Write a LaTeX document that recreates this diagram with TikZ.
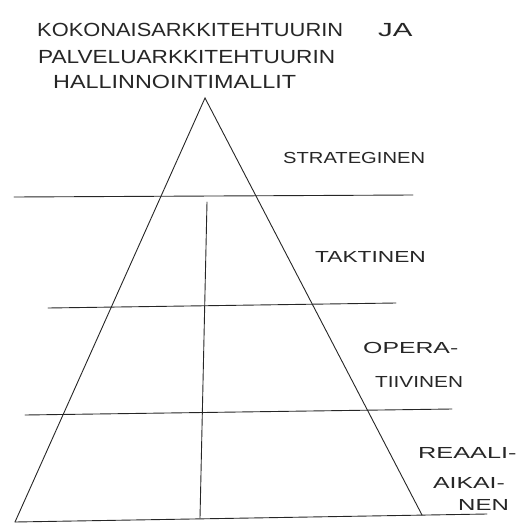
\documentclass[tikz,border=0pt]{standalone}
\usepackage{fontspec}
\setmainfont{Liberation Sans}
\usetikzlibrary{positioning}
\definecolor{pencil}{HTML}{262626}
% leveämpi käsiala
\newcommand{\wide}[2]{\scalebox{#1}[1]{#2}}
\tikzset{
  % viivat
  stroke/.style={draw=pencil,line width=0.9pt,line cap=round},
  % tekstit
  hand/.style={font=\fontsize{19}{21}\selectfont,text=pencil,inner sep=0pt,anchor=west},
  lvl/.style={hand,font=\fontsize{16}{18}\selectfont},
}
\begin{document}
\begin{tikzpicture}[x=1pt,y=-1pt]
  \useasboundingbox (0,0) rectangle (521,524);
  % otsikko
  \node[hand] (t1) at (37,30) {\wide{1.15}{KOKONAISARKKITEHTUURIN}};
  \node[hand] (ja) at (378,30) {\wide{1.55}{JA}};
  \node[hand] (t2) at (38,57) {\wide{1.19}{PALVELUARKKITEHTUURIN}};
  \node[hand] (t3) at (53,82) {\wide{1.23}{HALLINNOINTIMALLIT}};
  % pyramidi
  \coordinate (apex) at (205,98);
  \coordinate (bl) at (15,522);
  \coordinate (br) at (422,515);
  \coordinate (be) at (487,514);
  \coordinate (l1w) at (14,197);
  \coordinate (l1e) at (413,195);
  \coordinate (l2w) at (48,308);
  \coordinate (l2e) at (396,303);
  \coordinate (l3w) at (25,415);
  \coordinate (l3e) at (452,409);
  \coordinate (vt) at (207,202);
  \coordinate (vb) at (200,518);
  \draw[stroke] (bl) -- (apex) -- (br);
  \draw[stroke] (bl) -- (be);
  \draw[stroke] (l1w) -- (l1e);
  \draw[stroke] (l2w) -- (l2e);
  \draw[stroke] (l3w) -- (l3e);
  \draw[stroke] (vt) -- (vb);
  % tasot
  \node[lvl] (strat) at (283,158) {\wide{1.26}{STRATEGINEN}};
  \node[lvl] (takt) at (315,257) {\wide{1.42}{TAKTINEN}};
  \node[lvl] (oper) at (363,348) {\wide{1.55}{OPERA-}};
  \node[lvl] (oper2) at (375,382) {\wide{1.3}{TIIVINEN}};
  \node[lvl] (reaali) at (418,453) {\wide{1.58}{REAALI-}};
  \node[lvl] (aika) at (433,483) {\wide{1.55}{AIKAI-}};
  \node[lvl] (nen) at (458,505) {\wide{1.5}{NEN}};
\end{tikzpicture}
\end{document}
